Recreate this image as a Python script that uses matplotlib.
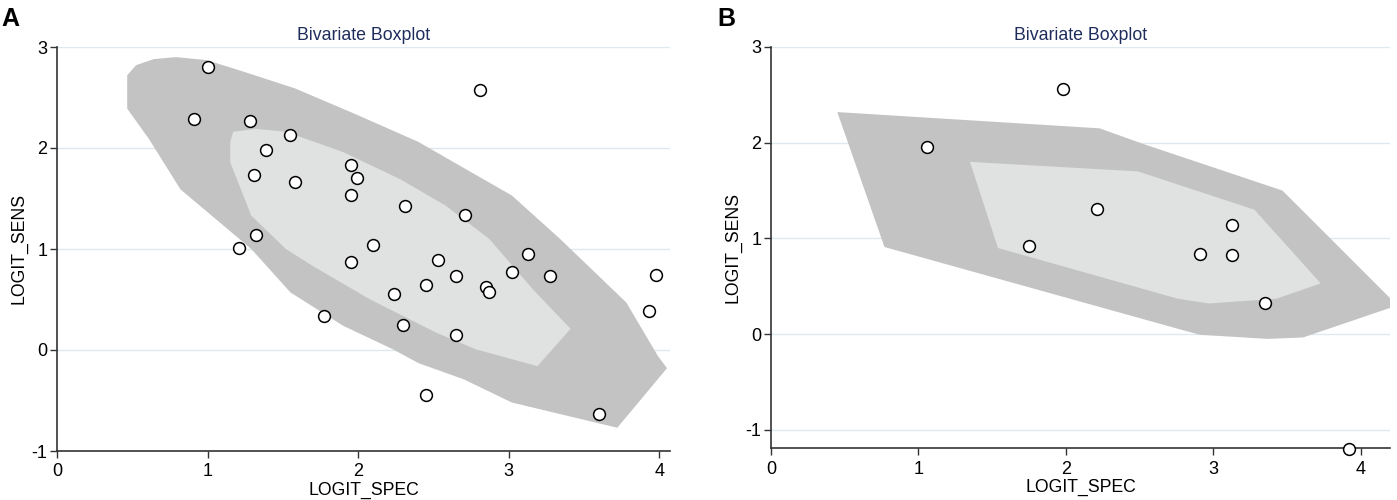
import matplotlib
matplotlib.use("Agg")
import matplotlib.pyplot as plt
from matplotlib.patches import Polygon

plt.rcParams['font.family'] = ['Liberation Sans', 'DejaVu Sans']
plt.rcParams['axes.unicode_minus'] = False

# Panel A data
a_spec = [1.00, 0.91, 1.28, 1.55, 1.39, 1.31, 1.58, 1.95, 1.99, 1.95, 2.31, 2.71, 2.81, 1.32,
          1.21, 2.10, 1.95, 2.53, 3.13, 2.65, 2.45, 3.02, 3.27, 2.24, 2.85, 2.87, 1.77, 2.30,
          2.65, 3.93, 3.98, 2.45, 3.60]
a_sens = [2.80, 2.29, 2.27, 2.13, 1.98, 1.73, 1.66, 1.83, 1.70, 1.53, 1.43, 1.34, 2.57, 1.14,
          1.01, 1.04, 0.87, 0.89, 0.95, 0.73, 0.64, 0.77, 0.73, 0.55, 0.62, 0.57, 0.34, 0.245,
          0.146, 0.39, 0.74, -0.45, -0.63]
a_outer_x = [0.466, 0.466, 0.525, 0.642, 0.789, 0.994, 1.23, 1.58, 1.99, 2.40, 2.75, 3.02, 3.34,
             3.78, 3.99, 4.05, 3.72, 3.02, 2.70, 2.40, 2.23, 1.90, 1.55, 1.29, 0.82, 0.61]
a_outer_y = [2.39, 2.72, 2.82, 2.88, 2.90, 2.87, 2.76, 2.59, 2.33, 2.06, 1.76, 1.53, 1.10,
             0.47, -0.06, -0.18, -0.77, -0.52, -0.29, -0.13, 0.007, 0.24, 0.57, 1.0, 1.59, 2.09]
a_inner_x = [1.15, 1.17, 1.32, 1.52, 1.90, 2.28, 2.58, 2.87, 3.16, 3.41, 3.19, 2.78, 2.52, 2.08,
             1.70, 1.52, 1.29, 1.15]
a_inner_y = [2.06, 2.16, 2.19, 2.16, 1.96, 1.69, 1.43, 1.10, 0.60, 0.21, -0.16, 0.007, 0.17, 0.50,
             0.83, 1.0, 1.33, 1.86]

# Panel B data
b_spec = [1.06, 1.98, 2.21, 3.13, 1.75, 2.91, 3.13, 3.35, 3.92]
b_sens = [1.96, 2.56, 1.31, 1.14, 0.92, 0.84, 0.825, 0.325, -1.20]
b_outer_x = [0.45, 2.23, 2.52, 3.47, 4.25, 3.61, 3.37, 2.91, 2.76, 0.77]
b_outer_y = [2.32, 2.15, 1.99, 1.50, 0.30, -0.035, -0.05, -0.007, 0.056, 0.91]
b_inner_x = [1.35, 2.49, 3.28, 3.73, 3.43, 2.97, 2.76, 1.54]
b_inner_y = [1.80, 1.70, 1.30, 0.53, 0.37, 0.32, 0.37, 0.90]

ticks_x = [0, 1, 2, 3, 4]
ticks_y = [-1, 0, 1, 2, 3]

OUTER = '#c3c3c3'
INNER = '#e0e1e1'
GRID = '#dce9ee'
TITLE_C = '#1f2d5c'
SPINE = '#333333'

fig = plt.figure(figsize=(13.97, 5.0), dpi=100)
axA = fig.add_axes([57/1397, 1-451/500, (670-57)/1397, (451-47)/500])
axB = fig.add_axes([771/1397, 1-448/500, (1390-771)/1397, (448-47)/500])

def style(ax, xlim, ylim):
    ax.set_xlim(*xlim)
    ax.set_ylim(*ylim)
    ax.set_xticks(ticks_x)
    ax.set_yticks(ticks_y)
    for s in ['top', 'right']:
        ax.spines[s].set_visible(False)
    for s in ['left', 'bottom']:
        ax.spines[s].set_linewidth(1.2)
        ax.spines[s].set_color(SPINE)
    ax.tick_params(direction='out', length=5, width=1, color=SPINE, labelsize=13)
    ax.tick_params(axis='x', pad=4)
    ax.tick_params(axis='y', pad=2)
    for y in ticks_y:
        ax.axhline(y, color=GRID, lw=1.0, zorder=0)
    ax.set_xlabel('LOGIT_SPEC', fontsize=12.7, labelpad=1)
    ax.set_ylabel('LOGIT_SENS', fontsize=12.7, labelpad=3)
    ax.set_title('Bivariate Boxplot', fontsize=12.8, color=TITLE_C, pad=5)

style(axA, (0, 4.07), (-1, 3.0))
style(axB, (0, 4.2), (-1.19, 3.0))

axA.add_patch(Polygon(list(zip(a_outer_x, a_outer_y)), closed=True, fc=OUTER, ec='none', zorder=1))
axA.add_patch(Polygon(list(zip(a_inner_x, a_inner_y)), closed=True, fc=INNER, ec='none', zorder=2))
axA.plot(a_spec, a_sens, 'o', ms=8.5, mfc='white', mec='black', mew=1.1, zorder=5, clip_on=False)

axB.add_patch(Polygon(list(zip(b_outer_x, b_outer_y)), closed=True, fc=OUTER, ec='none', zorder=1))
axB.add_patch(Polygon(list(zip(b_inner_x, b_inner_y)), closed=True, fc=INNER, ec='none', zorder=2))
axB.plot(b_spec, b_sens, 'o', ms=8.5, mfc='white', mec='black', mew=1.1, zorder=5, clip_on=False)

fig.text(1/1397, 1-19/500, 'A', fontsize=18, fontweight='bold', va='center', ha='left')
fig.text(717/1397, 1-19/500, 'B', fontsize=18, fontweight='bold', va='center', ha='left')

fig.savefig('out.png', dpi=100)
